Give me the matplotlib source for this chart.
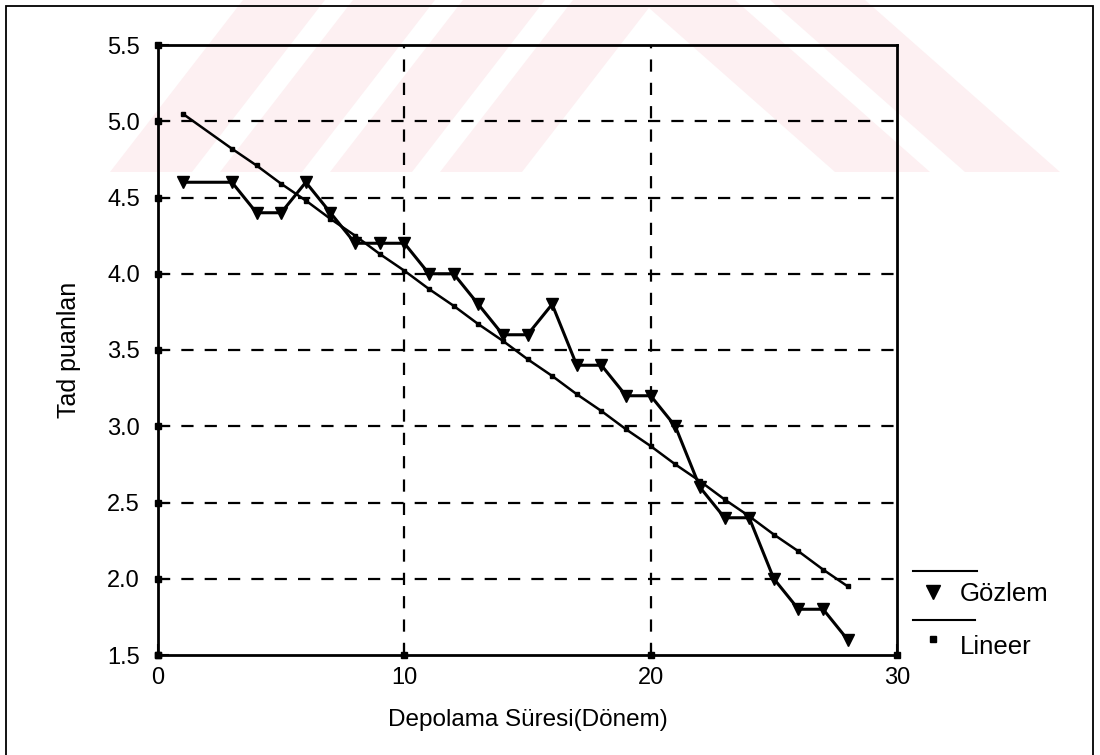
import matplotlib
matplotlib.use("Agg")
import matplotlib.pyplot as plt
import numpy as np
from matplotlib.lines import Line2D
from matplotlib.patches import Polygon, Rectangle

plt.rcParams['font.family'] = ['Liberation Sans', 'DejaVu Sans']

# storage period (x) and observed taste score
donem = [1, 3, 4, 5, 6, 7, 8, 9, 10, 11, 12, 13, 14, 15, 16, 17, 18, 19, 20,
         21, 22, 23, 24, 25, 26, 27, 28]
gozlem = [4.6, 4.6, 4.4, 4.4, 4.6, 4.4, 4.2, 4.2, 4.2, 4.0, 4.0, 3.8, 3.6, 3.6,
          3.8, 3.4, 3.4, 3.2, 3.2, 3.0, 2.6, 2.4, 2.4, 2.0, 1.8, 1.8, 1.6]
# linear fit
lineer = [5.05, 4.82, 4.71, 4.59, 4.48, 4.36, 4.25, 4.13, 4.02, 3.90, 3.79,
          3.67, 3.56, 3.44, 3.33, 3.21, 3.10, 2.98, 2.87, 2.75, 2.64, 2.52,
          2.41, 2.29, 2.18, 2.06, 1.95]

x_ticks = [0, 10, 20, 30]
y_ticks = [1.5, 2.0, 2.5, 3.0, 3.5, 4.0, 4.5, 5.0, 5.5]
y_grid = [2.0, 2.5, 3.0, 3.5, 4.0, 4.5, 5.0]
x_grid = [10, 20]

W, H = 1100, 755
fig = plt.figure(figsize=(W / 100, H / 100), dpi=100)
fig.patch.set_facecolor('white')


def px(x, y):
    # pixel (from top-left) -> figure fraction
    return (x / W, 1 - y / H)


# faint watermark stripes in the top band
pink = '#fdf0f2'
stripes = []
for b in [110, 220, 330, 440]:
    stripes.append([(b, 172), (b + 82, 172), (b + 215, 0), (b + 133, 0)])
for b in [640, 770]:
    stripes.append([(b, 0), (b + 95, 0), (b + 290, 172), (b + 195, 172)])
for pts in stripes:
    fig.add_artist(Polygon([px(*p) for p in pts], closed=True, facecolor=pink,
                           edgecolor='none', transform=fig.transFigure, zorder=0))

# outer frame
fig.add_artist(Rectangle(px(6, 770), (1093 - 6) / W, (770 - 6) / H,
                         fill=False, edgecolor='black', lw=1.3,
                         transform=fig.transFigure, zorder=1))

ax = fig.add_axes([158 / W, 1 - 655 / H, (897 - 158) / W, (655 - 45) / H])
ax.patch.set_alpha(0)

for gy in y_grid:
    ax.axhline(gy, color='black', lw=1.6, ls=(0, (5.5, 5)), zorder=1)
for gx in x_grid:
    ax.axvline(gx, color='black', lw=1.6, ls=(0, (5.5, 5)), zorder=1)

ax.plot(donem, lineer, color='black', lw=1.8, marker='s', ms=2.5, zorder=3)
ax.plot(donem, gozlem, color='black', lw=2.2, marker='v', ms=9, zorder=4)

ax.set_xlim(0, 30)
ax.set_ylim(1.5, 5.5)
ax.set_xticks(x_ticks)
ax.set_yticks(y_ticks)
ax.set_yticklabels(['%.1f' % v for v in y_ticks])
ax.tick_params(direction='in', length=8, width=1.5, labelsize=17, colors='black')
ax.tick_params(axis='y', pad=13)
ax.tick_params(axis='x', pad=9)
for s in ax.spines.values():
    s.set_linewidth(2)

# small square blobs on the axes at the ticks
ax.plot(np.zeros(len(y_ticks)), y_ticks, 's', color='black', ms=5,
        transform=ax.get_yaxis_transform(), clip_on=False, zorder=5)
ax.plot(x_ticks, np.zeros(len(x_ticks)), 's', color='black', ms=5,
        transform=ax.get_xaxis_transform(), clip_on=False, zorder=5)

ax.set_xlabel('Depolama Süresi(Dönem)', fontsize=17.5, labelpad=14)
ax.set_ylabel('Tad puanlan', fontsize=18, labelpad=19)

# legend drawn by hand: line on top, marker and text below
fig.add_artist(Line2D([913 / W, 977 / W], [1 - 571 / H] * 2, color='black', lw=1.5,
                      transform=fig.transFigure))
fig.add_artist(Line2D([933 / W], [1 - 592 / H], marker='v', ms=10, color='black',
                      transform=fig.transFigure))
fig.text(960 / W, 1 - 594 / H, 'Gözlem', fontsize=18.5, va='center', ha='left')
fig.add_artist(Line2D([913 / W, 975 / W], [1 - 620 / H] * 2, color='black', lw=1.5,
                      transform=fig.transFigure))
fig.add_artist(Line2D([933 / W], [1 - 639 / H], marker='s', ms=4.5, color='black',
                      transform=fig.transFigure))
fig.text(960 / W, 1 - 647 / H, 'Lineer', fontsize=18.5, va='center', ha='left')

fig.savefig('out.png', dpi=100)
